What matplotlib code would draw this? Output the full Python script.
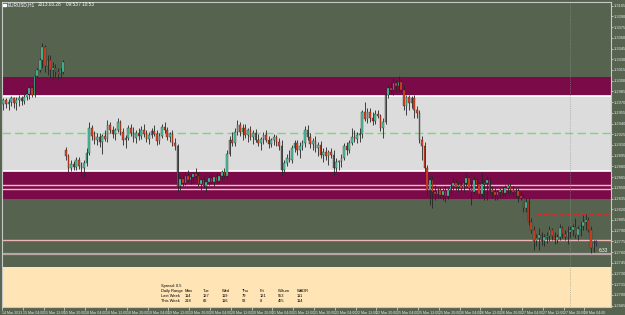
import matplotlib
matplotlib.use("Agg")
import matplotlib.pyplot as plt
import numpy as np

plt.rcParams['font.family'] = ['Liberation Sans', 'DejaVu Sans']

# EURUSD H1 bars, 14 Mar 20:00 .. 28 Mar 09:00
opens = [
    1.2967, 1.2973, 1.2967, 1.2970, 1.2976, 1.2969, 1.2973, 1.2976, 1.2972, 1.2977,
    1.2981, 1.2990, 1.2980, 1.3007, 1.3015, 1.3029, 1.3047, 1.3021, 1.3029, 1.3015,
    1.3018, 1.3012, 1.3009, 1.3012, 1.2903, 1.2895, 1.2878, 1.2883, 1.2879, 1.2889,
    1.2881, 1.2878, 1.2885, 1.2899, 1.2934, 1.2923, 1.2917, 1.2921, 1.2914, 1.2923,
    1.2918, 1.2938, 1.2931, 1.2926, 1.2931, 1.2942, 1.2928, 1.2917, 1.2920, 1.2934,
    1.2927, 1.2920, 1.2927, 1.2923, 1.2931, 1.2926, 1.2918, 1.2924, 1.2930, 1.2926,
    1.2916, 1.2923, 1.2935, 1.2931, 1.2921, 1.2926, 1.2913, 1.2909, 1.2853, 1.2862,
    1.2857, 1.2867, 1.2861, 1.2865, 1.2869, 1.2867, 1.2855, 1.2861, 1.2853, 1.2858,
    1.2864, 1.2858, 1.2865, 1.2860, 1.2867, 1.2872, 1.2867, 1.2897, 1.2917, 1.2913,
    1.2928, 1.2938, 1.2928, 1.2934, 1.2924, 1.2931, 1.2921, 1.2927, 1.2917, 1.2913,
    1.2918, 1.2924, 1.2917, 1.2911, 1.2917, 1.2921, 1.2914, 1.2909, 1.2875, 1.2885,
    1.2892, 1.2889, 1.2906, 1.2913, 1.2903, 1.2909, 1.2913, 1.2931, 1.2921, 1.2911,
    1.2916, 1.2906, 1.2910, 1.2896, 1.2900, 1.2895, 1.2900, 1.2896, 1.2878, 1.2886,
    1.2888, 1.2892, 1.2909, 1.2903, 1.2913, 1.2921, 1.2918, 1.2924, 1.2926, 1.2956,
    1.2946, 1.2956, 1.2948, 1.2944, 1.2953, 1.2951, 1.2934, 1.2942, 1.2980, 1.2990,
    1.2987, 1.2997, 1.2993, 1.2998, 1.2987, 1.2965, 1.2977, 1.2969, 1.2976, 1.2959,
    1.2955, 1.2917, 1.2909, 1.2878, 1.2847, 1.2861, 1.2844, 1.2842, 1.2847, 1.2840,
    1.2845, 1.2839, 1.2847, 1.2853, 1.2857, 1.2851, 1.2854, 1.2850, 1.2857, 1.2864,
    1.2850, 1.2844, 1.2861, 1.2855, 1.2842, 1.2855, 1.2857, 1.2861, 1.2847, 1.2844,
    1.2840, 1.2844, 1.2847, 1.2843, 1.2850, 1.2853, 1.2847, 1.2844, 1.2846, 1.2839,
    1.2836, 1.2822, 1.2830, 1.2802, 1.2791, 1.2775, 1.2780, 1.2784, 1.2775, 1.2781,
    1.2783, 1.2791, 1.2783, 1.2777, 1.2781, 1.2794, 1.2785, 1.2781, 1.2788, 1.2791,
    1.2795, 1.2784, 1.2792, 1.2797, 1.2802, 1.2805, 1.2791, 1.2766, 1.2773,
]
highs = [
    1.2976, 1.2976, 1.2974, 1.2979, 1.2977, 1.2977, 1.2980, 1.2979, 1.2981, 1.2987,
    1.2994, 1.2993, 1.3008, 1.3018, 1.3032, 1.3053, 1.3050, 1.3036, 1.3036, 1.3026,
    1.3023, 1.3018, 1.3018, 1.3029, 1.2907, 1.2897, 1.2889, 1.2888, 1.2893, 1.2893,
    1.2886, 1.2889, 1.2906, 1.2942, 1.2938, 1.2930, 1.2927, 1.2927, 1.2925, 1.2931,
    1.2945, 1.2942, 1.2937, 1.2934, 1.2948, 1.2945, 1.2934, 1.2924, 1.2938, 1.2939,
    1.2935, 1.2931, 1.2934, 1.2937, 1.2939, 1.2931, 1.2928, 1.2934, 1.2938, 1.2931,
    1.2927, 1.2939, 1.2942, 1.2935, 1.2928, 1.2931, 1.2920, 1.2911, 1.2867, 1.2868,
    1.2872, 1.2875, 1.2869, 1.2871, 1.2878, 1.2872, 1.2864, 1.2867, 1.2861, 1.2868,
    1.2869, 1.2867, 1.2871, 1.2869, 1.2875, 1.2878, 1.2903, 1.2923, 1.2928, 1.2934,
    1.2945, 1.2942, 1.2939, 1.2939, 1.2934, 1.2937, 1.2931, 1.2932, 1.2925, 1.2921,
    1.2928, 1.2931, 1.2923, 1.2920, 1.2925, 1.2924, 1.2920, 1.2917, 1.2889, 1.2897,
    1.2903, 1.2910, 1.2917, 1.2917, 1.2914, 1.2917, 1.2937, 1.2938, 1.2927, 1.2920,
    1.2923, 1.2914, 1.2916, 1.2906, 1.2907, 1.2903, 1.2906, 1.2903, 1.2892, 1.2889,
    1.2897, 1.2913, 1.2914, 1.2917, 1.2934, 1.2931, 1.2928, 1.2934, 1.2959, 1.2970,
    1.2962, 1.2962, 1.2956, 1.2959, 1.2959, 1.2953, 1.2948, 1.2983, 1.2994, 1.2997,
    1.3004, 1.3001, 1.3007, 1.3002, 1.2994, 1.2980, 1.2980, 1.2979, 1.2980, 1.2965,
    1.2959, 1.2923, 1.2914, 1.2882, 1.2867, 1.2867, 1.2854, 1.2850, 1.2851, 1.2850,
    1.2853, 1.2850, 1.2858, 1.2864, 1.2861, 1.2858, 1.2860, 1.2861, 1.2871, 1.2867,
    1.2858, 1.2867, 1.2864, 1.2858, 1.2872, 1.2861, 1.2867, 1.2864, 1.2853, 1.2850,
    1.2847, 1.2850, 1.2851, 1.2854, 1.2855, 1.2857, 1.2853, 1.2850, 1.2850, 1.2845,
    1.2842, 1.2836, 1.2836, 1.2808, 1.2797, 1.2785, 1.2794, 1.2788, 1.2785, 1.2788,
    1.2797, 1.2794, 1.2788, 1.2785, 1.2799, 1.2797, 1.2791, 1.2797, 1.2797, 1.2799,
    1.2808, 1.2797, 1.2802, 1.2812, 1.2813, 1.2809, 1.2797, 1.2777, 1.2777,
]
lows = [
    1.2959, 1.2962, 1.2959, 1.2965, 1.2962, 1.2959, 1.2965, 1.2966, 1.2967, 1.2973,
    1.2974, 1.2977, 1.2977, 1.3004, 1.3012, 1.3018, 1.3012, 1.3008, 1.3004, 1.3001,
    1.3004, 1.3001, 1.3004, 1.3009, 1.2889, 1.2872, 1.2874, 1.2875, 1.2875, 1.2877,
    1.2867, 1.2865, 1.2881, 1.2896, 1.2917, 1.2911, 1.2910, 1.2907, 1.2897, 1.2916,
    1.2914, 1.2927, 1.2920, 1.2917, 1.2928, 1.2924, 1.2910, 1.2906, 1.2917, 1.2923,
    1.2914, 1.2913, 1.2917, 1.2918, 1.2921, 1.2914, 1.2911, 1.2920, 1.2923, 1.2910,
    1.2911, 1.2920, 1.2927, 1.2917, 1.2914, 1.2909, 1.2903, 1.2844, 1.2847, 1.2853,
    1.2854, 1.2858, 1.2855, 1.2857, 1.2864, 1.2853, 1.2847, 1.2850, 1.2844, 1.2854,
    1.2855, 1.2853, 1.2855, 1.2857, 1.2861, 1.2864, 1.2864, 1.2895, 1.2909, 1.2909,
    1.2924, 1.2923, 1.2917, 1.2920, 1.2914, 1.2917, 1.2911, 1.2914, 1.2909, 1.2903,
    1.2911, 1.2914, 1.2906, 1.2907, 1.2910, 1.2909, 1.2903, 1.2868, 1.2871, 1.2881,
    1.2886, 1.2885, 1.2900, 1.2896, 1.2892, 1.2903, 1.2907, 1.2917, 1.2906, 1.2903,
    1.2900, 1.2895, 1.2892, 1.2886, 1.2889, 1.2882, 1.2892, 1.2868, 1.2872, 1.2875,
    1.2879, 1.2889, 1.2896, 1.2899, 1.2910, 1.2914, 1.2913, 1.2914, 1.2920, 1.2944,
    1.2941, 1.2942, 1.2938, 1.2939, 1.2948, 1.2930, 1.2920, 1.2939, 1.2976, 1.2981,
    1.2980, 1.2984, 1.2984, 1.2984, 1.2959, 1.2952, 1.2959, 1.2962, 1.2948, 1.2948,
    1.2913, 1.2889, 1.2872, 1.2839, 1.2826, 1.2822, 1.2833, 1.2836, 1.2836, 1.2833,
    1.2830, 1.2834, 1.2842, 1.2847, 1.2847, 1.2844, 1.2844, 1.2844, 1.2853, 1.2847,
    1.2826, 1.2841, 1.2850, 1.2836, 1.2837, 1.2833, 1.2833, 1.2842, 1.2836, 1.2833,
    1.2833, 1.2836, 1.2837, 1.2839, 1.2842, 1.2842, 1.2839, 1.2836, 1.2830, 1.2833,
    1.2816, 1.2816, 1.2798, 1.2787, 1.2763, 1.2769, 1.2763, 1.2770, 1.2769, 1.2773,
    1.2775, 1.2777, 1.2771, 1.2773, 1.2777, 1.2780, 1.2777, 1.2771, 1.2780, 1.2783,
    1.2780, 1.2777, 1.2783, 1.2791, 1.2791, 1.2788, 1.2759, 1.2760, 1.2769,
]
closes = [
    1.2973, 1.2967, 1.2970, 1.2976, 1.2969, 1.2973, 1.2976, 1.2972, 1.2977, 1.2981,
    1.2990, 1.2980, 1.3007, 1.3015, 1.3029, 1.3047, 1.3021, 1.3029, 1.3015, 1.3018,
    1.3012, 1.3009, 1.3015, 1.3026, 1.2895, 1.2878, 1.2883, 1.2879, 1.2889, 1.2881,
    1.2878, 1.2885, 1.2899, 1.2934, 1.2923, 1.2917, 1.2921, 1.2914, 1.2923, 1.2918,
    1.2938, 1.2931, 1.2926, 1.2931, 1.2942, 1.2928, 1.2917, 1.2920, 1.2934, 1.2927,
    1.2920, 1.2927, 1.2923, 1.2931, 1.2926, 1.2918, 1.2924, 1.2930, 1.2926, 1.2916,
    1.2923, 1.2935, 1.2931, 1.2921, 1.2926, 1.2913, 1.2909, 1.2853, 1.2862, 1.2857,
    1.2867, 1.2861, 1.2865, 1.2869, 1.2867, 1.2855, 1.2861, 1.2853, 1.2858, 1.2864,
    1.2858, 1.2865, 1.2860, 1.2867, 1.2872, 1.2867, 1.2897, 1.2917, 1.2913, 1.2928,
    1.2938, 1.2928, 1.2934, 1.2924, 1.2931, 1.2921, 1.2927, 1.2917, 1.2913, 1.2918,
    1.2924, 1.2917, 1.2911, 1.2917, 1.2921, 1.2914, 1.2909, 1.2875, 1.2885, 1.2892,
    1.2889, 1.2906, 1.2913, 1.2903, 1.2909, 1.2913, 1.2931, 1.2921, 1.2911, 1.2916,
    1.2906, 1.2910, 1.2896, 1.2900, 1.2895, 1.2900, 1.2896, 1.2878, 1.2886, 1.2888,
    1.2892, 1.2909, 1.2903, 1.2913, 1.2921, 1.2918, 1.2924, 1.2926, 1.2956, 1.2946,
    1.2956, 1.2948, 1.2944, 1.2953, 1.2951, 1.2934, 1.2942, 1.2980, 1.2990, 1.2987,
    1.2997, 1.2993, 1.2998, 1.2987, 1.2965, 1.2977, 1.2969, 1.2976, 1.2959, 1.2955,
    1.2917, 1.2909, 1.2878, 1.2847, 1.2861, 1.2844, 1.2842, 1.2847, 1.2840, 1.2845,
    1.2839, 1.2847, 1.2853, 1.2857, 1.2851, 1.2854, 1.2850, 1.2857, 1.2864, 1.2850,
    1.2844, 1.2861, 1.2855, 1.2842, 1.2855, 1.2857, 1.2861, 1.2847, 1.2844, 1.2840,
    1.2844, 1.2847, 1.2843, 1.2850, 1.2853, 1.2847, 1.2844, 1.2846, 1.2839, 1.2836,
    1.2822, 1.2830, 1.2802, 1.2791, 1.2775, 1.2780, 1.2784, 1.2775, 1.2781, 1.2783,
    1.2791, 1.2783, 1.2777, 1.2781, 1.2794, 1.2785, 1.2781, 1.2788, 1.2791, 1.2795,
    1.2784, 1.2792, 1.2797, 1.2802, 1.2805, 1.2791, 1.2766, 1.2773, 1.2775,
]

time_labels = [
    "14 Mar 2013", "15 Mar 04:00", "15 Mar 12:00", "15 Mar 20:00",
    "18 Mar 04:00", "18 Mar 12:00", "18 Mar 20:00", "19 Mar 04:00",
    "19 Mar 12:00", "19 Mar 20:00", "20 Mar 04:00", "20 Mar 12:00",
    "20 Mar 20:00", "21 Mar 04:00", "21 Mar 12:00", "21 Mar 20:00",
    "22 Mar 04:00", "22 Mar 12:00", "22 Mar 20:00", "25 Mar 04:00",
    "25 Mar 12:00", "25 Mar 20:00", "26 Mar 04:00", "26 Mar 12:00",
    "26 Mar 20:00", "27 Mar 04:00", "27 Mar 12:00", "27 Mar 20:00",
    "28 Mar 04:00",
]

# supply / demand zones (price levels)
upper_zone = (1.2980, 1.3005)
mid_zone = (1.2874, 1.2979)
lower_zone = (1.2835, 1.2874)
bottom_zone_top = 1.2739
pink_levels = [1.2854, 1.2848]
mid_level = 1.2927
red_level = 1.2813
bid_level = 1.2777
gray_level = 1.2758

stat_header = ["Daily Range", "Mon", "Tue", "Wed", "Thu", "Fri", "WSum", "WADR"]
last_week = ["Last Week", "114", "127", "119", "79", "121", "553", "111"]
this_week = ["This Week", "218", "82", "116", "58", "8", "455", "114"]

BG = '#56634f'
W, H = 625, 315
fig = plt.figure(figsize=(W / 100, H / 100), dpi=100, facecolor=BG)
ax = fig.add_axes([2 / W, 8 / H, 609 / W, 305 / H])
ax.set_facecolor(BG)

n = len(closes)
x = np.arange(n)
o = np.array(opens); c = np.array(closes)
hi = np.array(highs); lo = np.array(lows)

# zones
ax.axhspan(*upper_zone, color='#7b0b48', lw=0, zorder=1)
ax.axhspan(*mid_zone, color='#dcdcdc', lw=0, zorder=1)
ax.axhspan(*lower_zone, color='#7b0b48', lw=0, zorder=1)
ax.axhspan(1.2600, bottom_zone_top, color='#ffe4b5', lw=0, zorder=1)
for lv in mid_zone:
    ax.axhline(lv, color='white', lw=1.2, zorder=2)
for lv in pink_levels:
    ax.axhline(lv, color='#f2bcc4', lw=1.0, zorder=2)
ax.axhline(mid_level, color='#7ad87a', lw=1.0, dashes=(6, 3), zorder=2)
ax.axhline(bid_level, color='#f0b4b4', lw=1.0, zorder=2)
ax.axhline(gray_level, color='#b8a6a6', lw=1.6, zorder=2)
ax.plot([205, 240], [red_level, red_level], color='#c83030', lw=0.9,
        dashes=(4, 2), zorder=2)
ax.axvline(218, color='#8c9a8a', lw=0.5, ls=':', zorder=2)

# candles
bull = c >= o
body_col = np.where(bull, '#48c9a2', '#e8401c').astype(object)
body_col[-1] = '#3050ff'
ax.vlines(x, lo, hi, color='#262626', lw=0.6, zorder=3)
heights = np.maximum(np.abs(c - o), 0.00008)
ax.bar(x, heights, bottom=np.minimum(o, c), width=0.62, color=list(body_col),
       edgecolor='#262626', linewidth=0.25, zorder=4)

ax.set_xlim(-0.5, 233.7)
ax.set_ylim(1.26832, 1.31102)

# price axis on the right
ax.yaxis.tick_right()
yt = np.arange(1.2685, 1.31051, 0.0015)
ax.set_yticks(yt)
ax.set_yticklabels([f"{v:.4f}" for v in yt])
ax.tick_params(axis='y', labelsize=2.9, colors='#e6e6e6', length=1.5, width=0.5, pad=0.8)

# time axis
ax.set_xticks([8 * k - 0.5 for k in range(len(time_labels))])
ax.set_xticklabels(time_labels, ha='left')
ax.tick_params(axis='x', labelsize=2.6, colors='#e6e6e6', length=2, width=0.5, pad=1)
for s in ax.spines.values():
    s.set_color('#c8c8c8')
    s.set_linewidth(0.8)


def fpos(px, py):
    return px / W, 1 - py / H


# header
fig.patches.append(plt.Rectangle(fpos(3, 6), 3 / W, 2 / H, color='white',
                                 transform=fig.transFigure, figure=fig))
fig.text(*fpos(8, 5), "EURUSD,H1", color='white', fontsize=3.4, va='center')
fig.text(*fpos(38, 5), "2013.03.28", color='white', fontsize=3.4, va='center')
fig.text(*fpos(66, 5), "09:53 / 10:53", color='white', fontsize=3.4, va='center')

# statistics block
col_x = [161, 185, 203, 222, 242, 260, 278, 297]
fig.text(*fpos(161, 286), "Spread: 0.5", fontsize=2.9, color='black', va='center')
for row, py in zip([stat_header, last_week, this_week], [291, 296, 301]):
    for txt, px in zip(row, col_x):
        fig.text(*fpos(px, py), txt, fontsize=2.9, color='black', va='center')

# candle timer
fig.text(*fpos(599, 251), "6:33", fontsize=3.4, color='white', va='center')

fig.savefig("out.png", dpi=100, facecolor=BG)
